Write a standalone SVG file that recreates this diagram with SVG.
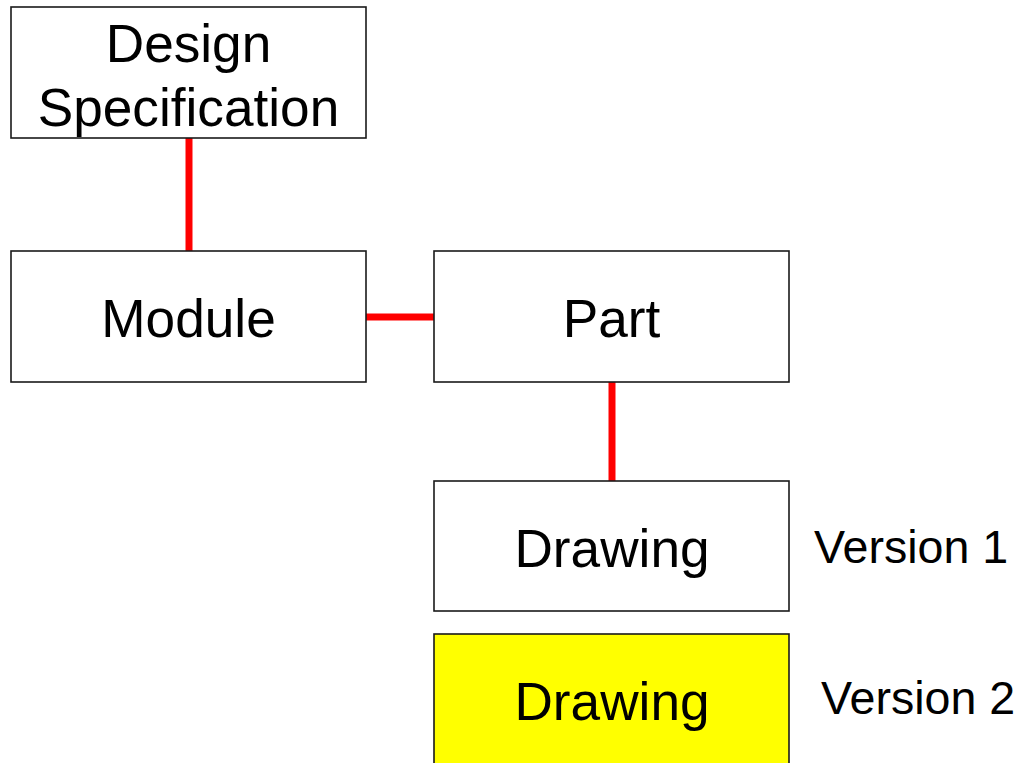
<svg xmlns="http://www.w3.org/2000/svg" width="1025" height="763" viewBox="0 0 1025 763">
<style>
.box{fill:#ffffff;stroke:#1a1a1a;stroke-width:1.6}
.hl{fill:#ffff00}
.t{font-family:"Liberation Sans",Arial,sans-serif;font-size:53.2px;fill:#000;text-anchor:middle}
.v{font-family:"Liberation Sans",Arial,sans-serif;font-size:46.6px;fill:#000}
.c{stroke:#ff0000;stroke-width:7;fill:none}
</style>
<rect width="1025" height="763" fill="#ffffff"/>
<g id="connectors">
<line class="c" x1="189" y1="138" x2="189" y2="251"/>
<line class="c" x1="366" y1="317" x2="434" y2="317"/>
<line class="c" x1="612" y1="382" x2="612" y2="481"/>
</g>
<g id="design-spec">
<rect class="box" x="11" y="7" width="355" height="131"/>
<text class="t" x="188.5" y="61.5">Design</text>
<text class="t" x="188.5" y="126">Specification</text>
</g>
<g id="module">
<rect class="box" x="11" y="251" width="355" height="131"/>
<text class="t" x="188.5" y="337">Module</text>
</g>
<g id="part">
<rect class="box" x="434" y="251" width="355" height="131"/>
<text class="t" x="611.5" y="337">Part</text>
</g>
<g id="drawing-v1">
<rect class="box" x="434" y="481" width="355" height="130"/>
<text class="t" x="612" y="567">Drawing</text>
</g>
<g id="drawing-v2">
<rect class="box hl" x="434" y="634" width="355" height="131"/>
<text class="t" x="612" y="720">Drawing</text>
</g>
<g id="labels">
<text class="v" x="814" y="563">Version 1</text>
<text class="v" x="821" y="714">Version 2</text>
</g>
</svg>
